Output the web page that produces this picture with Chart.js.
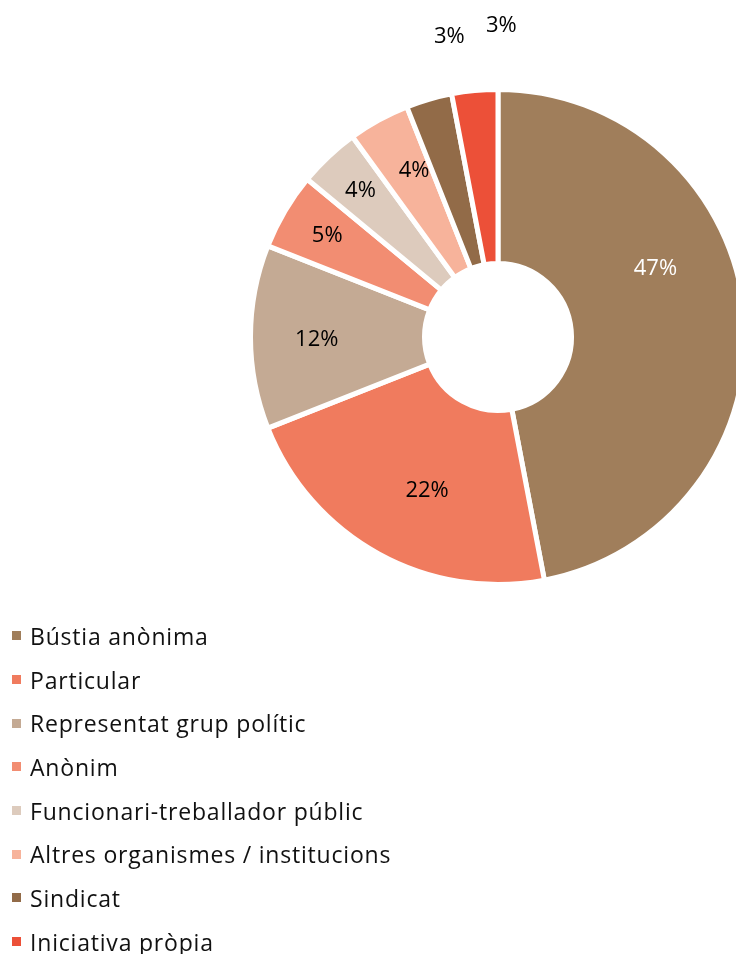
<!DOCTYPE html>
<html>
<head>
<meta charset="utf-8">
<script src="https://cdn.jsdelivr.net/npm/chart.js@4.4.1/dist/chart.umd.min.js"></script>
<style>
  html, body { margin: 0; padding: 0; background: #fff; overflow: hidden; width: 736px; height: 954px; }
  #wrap { position: absolute; left: 0; top: 0; width: 996px; height: 674px; }
  #legend { position: absolute; left: 12px; top: 614px; margin: 0; padding: 0; list-style: none;
            font-family: "Open Sans", sans-serif; font-size: 23px; letter-spacing: 0.8px; color: #111; }
  #legend li { height: 43.7px; display: flex; align-items: center; }
  #legend span.box { width: 9px; height: 9px; margin-right: 9px; display: inline-block; }
</style>
</head>
<body>
<div id="wrap"><canvas id="myChart" width="996" height="674"></canvas></div>
<ul id="legend"></ul>
<script>
const labels = ['Bústia anònima', 'Particular', 'Representat grup polític', 'Anònim',
  'Funcionari-treballador públic', 'Altres organismes / institucions', 'Sindicat', 'Iniciativa pròpia'];
const values = [47, 22, 12, 5, 4, 4, 3, 3];
const colors = ['#A07E5B', '#F07B5E', '#C4AA94', '#F28D72', '#DDCBBD', '#F7B39B', '#926B48', '#EC5038'];
const labelColors = ['#fff', '#000', '#000', '#000', '#000', '#000', '#000', '#000'];

// where each percentage label goes: angle shift (deg) and radius as a share of the outer radius
const labelSpots = [
  { shift: -18, r: 0.70 }, { shift: -4, r: 0.69 }, { shift: -1, r: 0.74 }, { shift: 0, r: 0.81 },
  { shift: 0, r: 0.82 }, { shift: 2, r: 0.76 }, { shift: 7, r: 1.24 }, { shift: 6, r: 1.27 }
];

// draw the % labels on (or beside) each slice
const pctLabels = {
  id: 'pctLabels',
  afterDatasetsDraw(chart) {
    const c = chart.ctx;
    const arcs = chart.getDatasetMeta(0).data;
    c.save();
    c.font = '22px "Open Sans", sans-serif';
    c.textAlign = 'center';
    c.textBaseline = 'middle';
    arcs.forEach((arc, i) => {
      const p = arc.getProps(['x', 'y', 'startAngle', 'endAngle', 'outerRadius'], true);
      const spot = labelSpots[i];
      const a = (p.startAngle + p.endAngle) / 2 + spot.shift * Math.PI / 180;
      const r = 245 * spot.r;
      c.fillStyle = labelColors[i];
      c.fillText(values[i] + '%', p.x + Math.cos(a) * r, p.y + Math.sin(a) * r);
    });
    c.restore();
  }
};

new Chart(document.getElementById('myChart'), {
  type: 'doughnut',
  data: {
    labels: labels,
    datasets: [{
      data: values,
      backgroundColor: colors,
      borderColor: '#fff',
      borderWidth: 5
    }]
  },
  options: {
    responsive: false,
    animation: false,
    cutout: '29.7%',
    layout: { padding: { top: 87, bottom: 87 } },
    plugins: { legend: { display: false }, tooltip: { enabled: false } }
  },
  plugins: [pctLabels]
});

// legend list
const ul = document.getElementById('legend');
labels.forEach((l, i) => {
  const li = document.createElement('li');
  li.innerHTML = '<span class="box" style="background:' + colors[i] + '"></span>' + l;
  ul.appendChild(li);
});
</script>
</body>
</html>
